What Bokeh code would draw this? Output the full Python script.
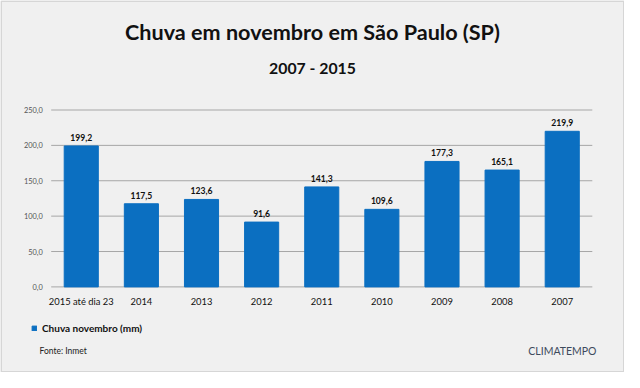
from bokeh.plotting import figure
from bokeh.models import (ColumnDataSource, Label, Legend, LegendItem, BoxAnnotation, LabelSet)
from bokeh.core.properties import value
from bokeh.embed import file_html
from bokeh.resources import INLINE

categories = ["2015 até dia 23", "2014", "2013", "2012", "2011", "2010", "2009", "2008", "2007"]
rain_mm = [199.2, 117.5, 123.6, 91.6, 141.3, 109.6, 177.3, 165.1, 219.9]
value_labels = ["199,2", "117,5", "123,6", "91,6", "141,3", "109,6", "177,3", "165,1", "219,9"]
y_ticks = [0, 50, 100, 150, 200, 250]
y_tick_labels = ["0,0", "50,0", "100,0", "150,0", "200,0", "250,0"]

title_text = "Chuva em novembro em São Paulo (SP)"
subtitle_text = "2007 - 2015"
series_name = "Chuva novembro (mm)"
source_text = "Fonte: Inmet"
brand_text = "CLIMATEMPO"

# ---- layout (pixels) ----
W, H = 624, 372
PLOT_L, PLOT_R, PLOT_T, PLOT_B = 50.7, 591.8, 109.5, 286.4
Y_MAX = 250
n = len(categories)
px_per_cat = (PLOT_R - PLOT_L) / n
px_per_unit = (PLOT_B - PLOT_T) / Y_MAX
x_start = -PLOT_L / px_per_cat
x_end = n + (W - PLOT_R) / px_per_cat
y_start = -(H - PLOT_B) / px_per_unit
y_end = Y_MAX + PLOT_T / px_per_unit

FONT = "Lato"
BG = "#f0f0f0"
BLUE = "#0b6fc1"
DARK = "#111111"

xpos = [i + 0.5 for i in range(n)]
src = ColumnDataSource(dict(x=xpos, cat=categories, val=rain_mm, lab=value_labels))
tick_src = ColumnDataSource(dict(y=y_ticks, lab=y_tick_labels,
                                 x0=[0] * len(y_ticks), x1=[n] * len(y_ticks)))

p = figure(width=W, height=H, x_range=(x_start, x_end), y_range=(y_start, y_end),
           x_axis_type=None, y_axis_type=None,
           output_backend="svg", toolbar_location=None,
           min_border=0, min_border_left=0, min_border_right=0,
           min_border_top=0, min_border_bottom=0)
p.background_fill_color = BG
p.border_fill_color = BG
p.outline_line_color = None
p.grid.visible = False

# gridlines
p.segment(x0="x0", x1="x1", y0="y", y1="y", source=tick_src, line_color="#a6a6a6", line_width=1)

bars = p.vbar(x="x", top="val", width=0.567, source=src, fill_color=BLUE, line_color=BLUE)

# value labels
p.add_layout(LabelSet(x="x", y="val", text="lab", source=src, text_align="center",
                      text_baseline="alphabetic", y_offset=5, text_font=value(FONT),
                      text_font_style="bold", text_font_size="8.6px", text_color=DARK))
# category labels
p.add_layout(LabelSet(x="x", y=0, text="cat", source=src, text_align="center",
                      text_baseline="alphabetic", y_offset=-17.6, text_font=value(FONT),
                      text_font_size="9.4px", text_color=DARK))
# y tick labels
p.add_layout(LabelSet(x="x0", y="y", text="lab", source=tick_src, text_align="right",
                      text_baseline="middle", x_offset=-8.5, text_font=value(FONT),
                      text_font_size="7.4px", text_color="#555555"))

# titles (screen units, origin bottom-left of canvas)
p.add_layout(Label(x=W / 2, y=H - 31, x_units="screen", y_units="screen", text=title_text,
                   text_align="center", text_baseline="alphabetic", text_font=FONT,
                   text_font_style="bold", text_font_size="21.6px", text_color=DARK))
p.add_layout(Label(x=W / 2, y=H - 66.6, x_units="screen", y_units="screen", text=subtitle_text,
                   text_align="center", text_baseline="alphabetic", text_font=FONT,
                   text_font_style="bold", text_font_size="15.8px", text_color=DARK))

legend = Legend(items=[LegendItem(label=series_name, renderers=[bars])],
                location=(31, H - 334.2), glyph_width=6, glyph_height=6, label_height=9,
                label_standoff=5, padding=0, margin=0, spacing=0,
                border_line_color=None, background_fill_alpha=0,
                label_text_font=FONT, label_text_font_style="bold",
                label_text_font_size="10px", label_text_color=DARK)
p.add_layout(legend, "center")

p.add_layout(Label(x=39, y=H - 350, x_units="screen", y_units="screen", text=source_text,
                   text_align="left", text_baseline="middle", text_font=FONT,
                   text_font_size="8.5px", text_color="#222222"))
p.add_layout(Label(x=596, y=H - 350, x_units="screen", y_units="screen", text=brand_text,
                   text_align="right", text_baseline="middle", text_font=FONT,
                   text_font_size="10.5px", text_color="#3d4a5c"))

p.add_layout(BoxAnnotation(left=0.75, right=W - 0.75, top=H - 0.75, bottom=0.75,
                           left_units="screen", right_units="screen",
                           top_units="screen", bottom_units="screen",
                           fill_alpha=0, line_color="#9a9a9a", line_width=1.5))

open("out.html", "w").write(file_html(p, INLINE))
